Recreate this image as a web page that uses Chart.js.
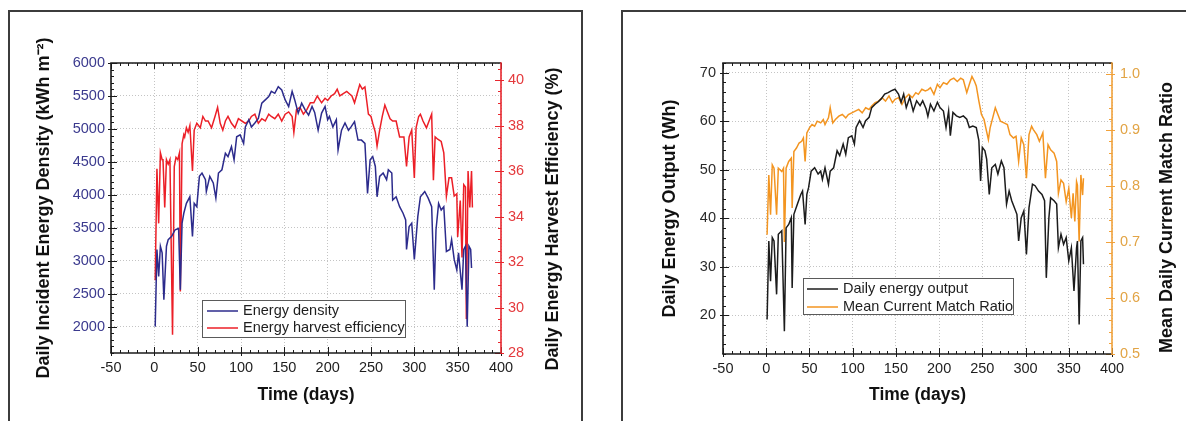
<!DOCTYPE html>
<html>
<head>
<meta charset="utf-8">
<title>Daily energy, incident density and harvest</title>
<script src="https://cdn.jsdelivr.net/npm/chart.js@4.4.1/dist/chart.umd.min.js"></script>
<style>
  body { margin: 0; background: #fff; width: 1186px; height: 421px; overflow: hidden; position: relative; }
  .panel { position: absolute; border: 2px solid #3c3c3c; box-sizing: border-box; }
  #p1 { left: 8px; top: 10px; width: 575px; height: 440px; }
  #p2 { left: 621px; top: 10px; width: 590px; height: 440px; }
  canvas { position: absolute; }
  #c1 { left: 9px; top: 11px; }
  #c2 { left: 622px; top: 11px; }
</style>
</head>
<body>
<div class="panel" id="p1"></div>
<div class="panel" id="p2"></div>
<canvas id="c1" width="572" height="410"></canvas>
<canvas id="c2" width="564" height="410"></canvas>
<script>
// tick labels
const dayTicks = [-50, 0, 50, 100, 150, 200, 250, 300, 350, 400];
const densityTicks = [2000, 2500, 3000, 3500, 4000, 4500, 5000, 5500, 6000];
const efficiencyTicks = [28, 30, 32, 34, 36, 38, 40];
const outputTicks = [20, 30, 40, 50, 60, 70];
const ratioTicks = [0.5, 0.6, 0.7, 0.8, 0.9, 1.0];

// daily incident energy density (kWh m-2)
const densityDays = [1, 3, 5, 7, 9, 11, 14, 16, 20, 24, 28, 30, 32, 34, 37, 41, 44, 46, 49, 52,
  55, 59, 60, 64, 68, 71, 74, 78, 82, 85, 89, 92, 95, 99, 103, 105, 109, 112, 116, 120,
  124, 128, 132, 135, 139, 143, 147, 151, 155, 159, 162, 166, 170, 174, 178, 182, 185, 189, 193, 197,
  200, 202, 206, 210, 212, 216, 220, 224, 227, 231, 235, 239, 243, 246, 249, 252, 255, 257, 260, 264,
  268, 270, 274, 275, 279, 283, 287, 290, 291, 294, 297, 300, 304, 307, 312, 316, 320, 323, 325, 328,
  331, 334, 337, 341, 343, 346, 349, 351, 355, 357, 359, 361, 363, 365, 366];
const densityValues = [2000, 3170, 2760, 3220, 3120, 2410, 3220, 3320, 3370, 3470, 3490, 2560, 3570, 3720, 3870, 3970, 3370, 3870, 3820, 4280,
  4330, 4230, 4050, 4280, 4180, 3950, 4330, 4380, 4630, 4580, 4730, 4530, 4880, 4910, 4780, 5030, 5140, 5030, 5090, 5160,
  5390, 5440, 5490, 5570, 5540, 5640, 5590, 5440, 5340, 5570, 5440, 5240, 5390, 5290, 5210, 5340, 5250, 4980, 5240, 5340,
  5140, 5190, 5030, 5140, 4680, 4980, 5090, 4980, 5030, 5110, 4830, 4830, 4780, 4020, 4530, 4580, 4430, 3970, 4280, 4330,
  4230, 4380, 4330, 3920, 3970, 3820, 3720, 3620, 3170, 3520, 3570, 3020, 3670, 3970, 4050, 3950, 3820, 2560, 3470, 3870,
  3770, 3820, 3140, 3170, 3320, 3020, 2860, 3120, 2560, 3170, 3220, 2000, 3220, 3170, 2890];

// daily energy harvest efficiency (%)
const efficiencyDays = [1, 3, 5, 7, 9, 10, 12, 14, 16, 18, 21, 23, 25, 27, 29, 30, 32, 34, 35, 37,
  39, 41, 44, 46, 49, 53, 56, 59, 62, 66, 70, 73, 76, 79, 82, 85, 89, 93, 97, 101,
  105, 109, 112, 116, 120, 124, 128, 132, 135, 139, 143, 147, 151, 155, 159, 161, 164, 168, 172, 176,
  180, 184, 188, 193, 197, 200, 204, 208, 211, 214, 218, 222, 225, 228, 231, 234, 237, 240, 243, 245,
  247, 250, 252, 255, 257, 260, 263, 266, 269, 272, 275, 279, 283, 286, 288, 291, 294, 297, 300, 302,
  305, 307, 310, 314, 317, 320, 322, 324, 327, 331, 334, 337, 340, 343, 346, 349, 350, 353, 355, 357,
  359, 360, 362, 364, 366, 367];
const efficiencyValues = [31.2, 36.1, 33.7, 36.8, 36.5, 36.5, 34.4, 36.5, 36.3, 36.5, 28.8, 36.2, 36.6, 36.5, 36.8, 30.7, 37.2, 37.6, 37.5, 37.9,
  37.7, 38.0, 36.0, 37.8, 38.1, 37.9, 38.4, 38.2, 38.2, 37.9, 38.4, 38.8, 38.1, 37.8, 38.2, 38.4, 38.1, 37.9, 38.3, 38.2,
  38.1, 38.2, 38.4, 38.5, 38.1, 38.3, 38.2, 38.5, 38.4, 38.3, 38.5, 38.2, 38.5, 38.6, 38.4, 37.7, 38.7, 38.8, 38.5, 38.7,
  39.0, 39.0, 39.3, 39.0, 39.2, 39.1, 39.3, 39.4, 39.6, 39.3, 39.4, 39.5, 39.4, 39.3, 39.0, 39.4, 39.8, 39.6, 39.7, 39.1,
  38.5, 38.4, 38.1, 37.7, 37.1, 37.8, 38.4, 38.9, 38.6, 38.3, 38.2, 38.2, 37.5, 37.5, 37.5, 36.2, 37.5, 37.8, 35.7, 37.9,
  38.4, 38.5, 38.2, 37.9, 38.2, 38.5, 35.6, 37.5, 37.4, 37.3, 36.8, 34.9, 35.7, 35.7, 34.9, 35.0, 33.1, 34.7, 32.2, 35.4,
  35.3, 29.5, 36.0, 34.4, 36.0, 34.4];

// daily energy output (Wh)
const outputDays = [1, 3, 5, 7, 9, 12, 14, 18, 21, 23, 26, 29, 30, 32, 36, 40, 42, 45, 47, 49,
  52, 56, 60, 63, 65, 68, 72, 74, 78, 82, 85, 89, 92, 95, 99, 102, 104, 108, 112, 115,
  119, 122, 126, 129, 133, 137, 141, 145, 149, 153, 156, 159, 162, 166, 170, 174, 178, 181, 185, 187,
  190, 194, 198, 201, 205, 208, 211, 213, 216, 220, 224, 228, 232, 235, 239, 243, 246, 248, 250, 253,
  255, 258, 261, 265, 268, 272, 275, 278, 281, 284, 287, 290, 292, 295, 298, 301, 304, 308, 311, 315,
  319, 322, 324, 327, 329, 333, 336, 338, 341, 344, 347, 350, 353, 356, 359, 360, 362, 364, 366, 367];
const outputValues = [19.1, 35.3, 27.0, 36.0, 35.3, 24.3, 36.7, 37.4, 16.7, 38.0, 38.7, 40.1, 25.6, 40.8, 42.9, 44.9, 45.6, 38.7, 44.9, 46.3,
  49.7, 50.4, 49.1, 49.7, 48.0, 50.4, 47.0, 49.7, 50.4, 53.9, 52.9, 55.3, 53.2, 56.6, 57.0, 55.3, 58.7, 60.1, 58.7, 60.1,
  60.8, 62.8, 63.5, 63.9, 64.6, 65.6, 65.9, 66.3, 66.6, 65.6, 63.9, 65.6, 62.8, 64.9, 62.1, 64.2, 63.2, 64.2, 62.5, 61.0,
  63.5, 62.1, 63.9, 62.8, 62.1, 58.7, 62.1, 57.0, 61.8, 61.1, 60.8, 61.1, 60.4, 58.7, 59.0, 58.7, 56.0, 47.7, 54.6, 53.9,
  52.2, 44.9, 50.4, 51.1, 49.1, 51.8, 50.4, 42.9, 45.6, 43.6, 42.2, 40.8, 35.3, 40.1, 41.5, 32.5, 42.2, 47.0, 46.7, 45.6,
  44.9, 43.6, 27.7, 40.1, 44.2, 43.6, 42.9, 33.9, 36.7, 34.6, 36.0, 31.2, 33.9, 25.0, 33.9, 35.3, 18.1, 35.3, 36.0, 30.5];

// mean daily current match ratio
const ratioDays = [1, 3, 5, 7, 9, 12, 14, 18, 20, 21, 23, 26, 29, 30, 32, 35, 38, 41, 43, 45,
  47, 50, 53, 56, 59, 63, 66, 68, 72, 74, 77, 80, 84, 88, 92, 95, 99, 103, 107, 111,
  115, 119, 122, 126, 130, 134, 138, 142, 146, 149, 153, 157, 161, 165, 169, 173, 176, 180, 184, 187,
  190, 194, 198, 201, 205, 209, 213, 217, 221, 225, 228, 232, 235, 238, 241, 243, 246, 249, 252, 254,
  257, 259, 262, 265, 268, 271, 275, 279, 282, 286, 289, 292, 295, 298, 301, 304, 307, 309, 313, 316,
  320, 323, 326, 329, 333, 336, 338, 341, 344, 347, 350, 353, 355, 357, 359, 360, 362, 364, 366, 367];
const ratioValues = [0.713, 0.820, 0.749, 0.838, 0.832, 0.749, 0.832, 0.826, 0.832, 0.700, 0.832, 0.844, 0.850, 0.761, 0.862, 0.868, 0.877, 0.880, 0.886, 0.844,
  0.895, 0.904, 0.910, 0.907, 0.916, 0.913, 0.919, 0.910, 0.922, 0.940, 0.913, 0.919, 0.925, 0.928, 0.922, 0.928, 0.931, 0.934, 0.937, 0.931,
  0.940, 0.937, 0.943, 0.949, 0.952, 0.958, 0.952, 0.961, 0.949, 0.955, 0.958, 0.946, 0.958, 0.964, 0.958, 0.967, 0.964, 0.973, 0.970, 0.972,
  0.976, 0.964, 0.982, 0.976, 0.985, 0.982, 0.990, 0.993, 0.987, 0.993, 0.990, 0.967, 0.982, 0.996, 0.987, 0.979, 0.952, 0.928, 0.919, 0.904,
  0.883, 0.904, 0.922, 0.940, 0.928, 0.916, 0.913, 0.910, 0.892, 0.886, 0.889, 0.844, 0.886, 0.874, 0.814, 0.892, 0.907, 0.901, 0.892, 0.880,
  0.895, 0.814, 0.874, 0.865, 0.859, 0.844, 0.787, 0.811, 0.805, 0.772, 0.796, 0.743, 0.787, 0.737, 0.808, 0.802, 0.701, 0.820, 0.784, 0.814];

const FONT = "'Liberation Sans', Arial, Helvetica, sans-serif";
Chart.defaults.font.family = FONT;

const pts = (xs, ys) => xs.map((x, i) => ({ x: x, y: ys[i] }));
const fixTicks = (list) => (scale) => {
  scale.ticks = list.map((v) => ({ value: v }));
};
const plain = (v) => String(v);

// positions of minor/major marks along a scale
function axisMarks(scale, step, majors) {
  const out = [];
  const n = Math.round((scale.max - scale.min) / step);
  for (let i = 0; i <= n; i++) {
    const v = scale.min + i * step;
    if (v > scale.max + 1e-9) break;
    out.push({
      px: Math.round(scale.getPixelForValue(v)) + 0.5,
      major: majors.some((t) => Math.abs(t - v) < 1e-6),
    });
  }
  return out;
}

// plot frame with short tick marks on all four sides
const frameTicks = {
  id: "frameTicks",
  afterDatasetsDraw(chart, args, opts) {
    const { ctx, chartArea: a, scales } = chart;
    const ln = (x1, y1, x2, y2) => {
      ctx.beginPath();
      ctx.moveTo(x1, y1);
      ctx.lineTo(x2, y2);
      ctx.stroke();
    };
    ctx.save();
    ctx.lineWidth = 1;
    ctx.strokeStyle = opts.color;
    axisMarks(scales.x, opts.xStep, dayTicks).forEach((m) => {
      ln(m.px, a.bottom + (m.major ? 3 : 0), m.px, a.bottom - (m.major ? 6 : 3));
      ln(m.px, a.top, m.px, a.top + (m.major ? 6 : 3));
    });
    axisMarks(scales.y, opts.yStep, opts.yTicks).forEach((m) => {
      ln(a.left - (m.major ? 3 : 0), m.px, a.left + (m.major ? 6 : 3), m.px);
    });
    ctx.strokeStyle = opts.rightColor;
    axisMarks(scales.y2, opts.y2Step, opts.y2Ticks).forEach((m) => {
      ln(a.right + (m.major ? 3 : 0), m.px, a.right - (m.major ? 6 : 3), m.px);
    });
    ctx.lineWidth = 1.6;
    ctx.strokeStyle = opts.color;
    ln(a.left - 0.8, a.top, a.right, a.top);
    ln(a.left - 0.8, a.bottom, a.right, a.bottom);
    ln(a.left, a.top, a.left, a.bottom);
    ctx.strokeStyle = opts.rightColor;
    ln(a.right, a.top - 0.8, a.right, a.bottom + 0.8);
    ctx.restore();
  },
};

// boxed legend sitting inside the plot area
const boxLegend = {
  id: "boxLegend",
  afterDraw(chart, args, opts) {
    const { ctx, chartArea: a } = chart;
    const x = Math.round(a.left + opts.x);
    const y = Math.round(a.top + opts.y);
    ctx.save();
    ctx.fillStyle = "#fff";
    ctx.fillRect(x, y, opts.w, opts.h);
    ctx.strokeStyle = "#5a5a5a";
    ctx.lineWidth = 1;
    ctx.strokeRect(x + 0.5, y + 0.5, opts.w, opts.h);
    ctx.font = "14.5px " + FONT;
    ctx.textBaseline = "middle";
    chart.data.datasets.forEach((ds, i) => {
      const ly = y + opts.rowTop + i * opts.rowGap;
      ctx.strokeStyle = ds.borderColor;
      ctx.lineWidth = 1.5;
      ctx.beginPath();
      ctx.moveTo(x + opts.lineX, ly);
      ctx.lineTo(x + opts.lineX + 31, ly);
      ctx.stroke();
      ctx.fillStyle = "#1e1e1e";
      ctx.fillText(ds.label, x + opts.lineX + 36, ly);
    });
    ctx.restore();
  },
};

// right-hand axis title, read bottom to top
const rightTitle = {
  id: "rightTitle",
  afterDraw(chart, args, opts) {
    const { ctx, chartArea: a } = chart;
    ctx.save();
    ctx.translate(opts.x, (a.top + a.bottom) / 2 + opts.dy);
    ctx.rotate(-Math.PI / 2);
    ctx.font = "bold 18px " + FONT;
    ctx.fillStyle = "#111";
    ctx.textAlign = "center";
    ctx.textBaseline = "middle";
    ctx.fillText(opts.text, 0, 0);
    ctx.restore();
  },
};

const gridStyle = { color: "#c4c4c4", lineWidth: 1, drawTicks: false };

function xAxis(height) {
  return {
    type: "linear",
    min: -50,
    max: 400,
    afterBuildTicks: fixTicks(dayTicks),
    afterFit: (s) => { s.height = height; },
    grid: gridStyle,
    border: { display: false, dash: [1, 2] },
    ticks: { color: "#1e1e1e", font: { size: 14.5 }, padding: 6, autoSkip: false, maxRotation: 0, callback: plain },
    title: {
      display: true,
      text: "Time (days)",
      color: "#111",
      font: { size: 17.5, weight: "bold" },
      padding: { top: 0, bottom: 15.5 },
    },
  };
}

// incident energy density and harvest efficiency
new Chart(document.getElementById("c1"), {
  type: "line",
  data: {
    datasets: [
      {
        label: "Energy density",
        data: pts(densityDays, densityValues),
        yAxisID: "y",
        borderColor: "#2c2b8c",
        borderWidth: 1.5,
        pointRadius: 0,
        tension: 0,
      },
      {
        label: "Energy harvest efficiency",
        data: pts(efficiencyDays, efficiencyValues),
        yAxisID: "y2",
        borderColor: "#ec1f27",
        borderWidth: 1.5,
        pointRadius: 0,
        tension: 0,
      },
    ],
  },
  options: {
    responsive: false,
    animation: false,
    layout: { padding: { top: 52, left: 0, right: 0, bottom: 0 } },
    plugins: {
      legend: { display: false },
      tooltip: { enabled: false },
      frameTicks: { color: "#1a1a1a", rightColor: "#e8262e", xStep: 10, yStep: 100, yTicks: densityTicks, y2Step: 0.5, y2Ticks: efficiencyTicks },
      boxLegend: { x: 91, y: 237, w: 203, h: 37, lineX: 5, rowTop: 11, rowGap: 17 },
      rightTitle: { text: "Daily Energy Harvest Efficiency (%)", x: 544, dy: 11 },
    },
    scales: {
      x: xAxis(68),
      y: {
        type: "linear",
        position: "left",
        min: 1600,
        max: 6000,
        afterBuildTicks: fixTicks(densityTicks),
        afterFit: (s) => { s.width = 102; },
        grid: gridStyle,
        border: { display: false, dash: [1, 2] },
        ticks: { color: "#3b3a8e", font: { size: 14.5 }, padding: 6, callback: plain },
        title: {
          display: true,
          text: "Daily Incident Energy Density (kWh m\u207B\u00B2)",
          color: "#111",
          font: { size: 18, weight: "bold" },
          padding: { top: 24, bottom: 0 },
        },
      },
      y2: {
        type: "linear",
        position: "right",
        min: 28,
        max: 40.75,
        afterBuildTicks: fixTicks(efficiencyTicks),
        afterFit: (s) => { s.width = 80; },
        grid: { drawOnChartArea: false, drawTicks: false },
        border: { display: false },
        ticks: { color: "#e4393c", font: { size: 14.5 }, padding: 7, callback: plain },
      },
    },
  },
  plugins: [frameTicks, boxLegend, rightTitle],
});

// energy output and current match ratio
new Chart(document.getElementById("c2"), {
  type: "line",
  data: {
    datasets: [
      {
        label: "Daily energy output",
        data: pts(outputDays, outputValues),
        yAxisID: "y",
        borderColor: "#1c1c1c",
        borderWidth: 1.5,
        pointRadius: 0,
        tension: 0,
      },
      {
        label: "Mean Current Match Ratio",
        data: pts(ratioDays, ratioValues),
        yAxisID: "y2",
        borderColor: "#f39521",
        borderWidth: 1.5,
        pointRadius: 0,
        tension: 0,
      },
    ],
  },
  options: {
    responsive: false,
    animation: false,
    layout: { padding: { top: 52, left: 0, right: 0, bottom: 0 } },
    plugins: {
      legend: { display: false },
      tooltip: { enabled: false },
      frameTicks: { color: "#1a1a1a", rightColor: "#f2a23a", xStep: 10, yStep: 2, yTicks: outputTicks, y2Step: 0.02, y2Ticks: ratioTicks },
      boxLegend: { x: 80, y: 215, w: 210, h: 36, lineX: 4, rowTop: 11, rowGap: 18 },
      rightTitle: { text: "Mean Daily Current Match Ratio", x: 545, dy: 9 },
    },
    scales: {
      x: xAxis(67),
      y: {
        type: "linear",
        position: "left",
        min: 12,
        max: 72,
        afterBuildTicks: fixTicks(outputTicks),
        afterFit: (s) => { s.width = 101; },
        grid: gridStyle,
        border: { display: false, dash: [1, 2] },
        ticks: { color: "#2a2a2a", font: { size: 14.5 }, padding: 7, callback: plain },
        title: {
          display: true,
          text: "Daily Energy Output (Wh)",
          color: "#111",
          font: { size: 18, weight: "bold" },
          padding: { top: 37, bottom: 0 },
        },
      },
      y2: {
        type: "linear",
        position: "right",
        min: 0.5,
        max: 1.02,
        afterBuildTicks: fixTicks(ratioTicks),
        afterFit: (s) => { s.width = 74; },
        grid: { drawOnChartArea: false, drawTicks: false },
        border: { display: false },
        ticks: { color: "#e2a445", font: { size: 14.5 }, padding: 8, callback: (v) => v.toFixed(1) },
      },
    },
  },
  plugins: [frameTicks, boxLegend, rightTitle],
});
</script>
</body>
</html>
